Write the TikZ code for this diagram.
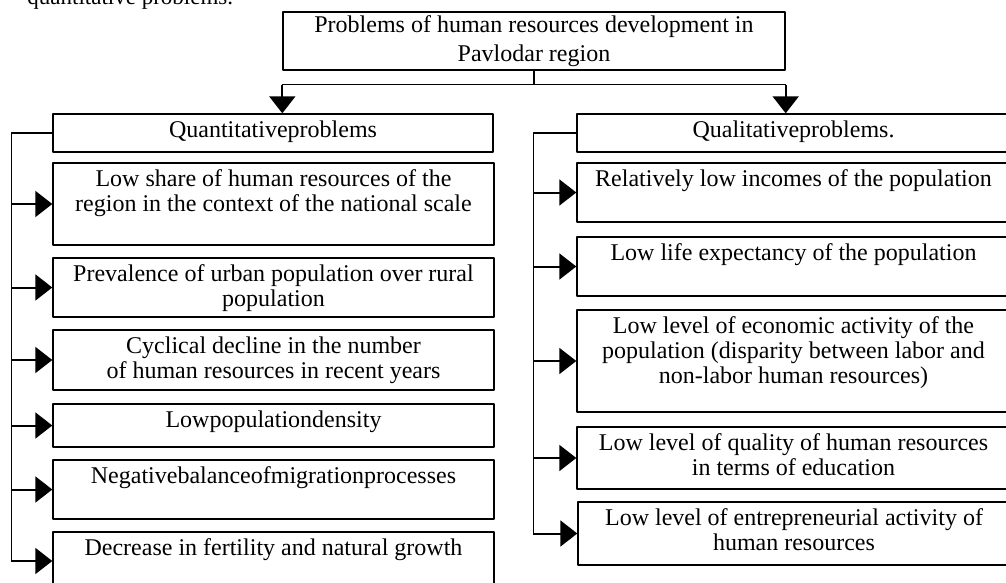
\documentclass[tikz,border=0pt]{standalone}
\usepackage{fontspec}
\setmainfont{Liberation Serif}
\usetikzlibrary{arrows.meta,fit}
\tikzset{
  box/.style={draw, line width=0.7pt, inner sep=0pt},
  txt/.style={anchor=north, align=center, inner sep=3.5pt, font=\fontsize{12}{12.4}\selectfont},
  arr/.style={-{Triangle[width=13pt,length=8.5pt]}, line width=1pt},
  trunk/.style={line width=0.7pt},
}
\begin{document}
\begin{tikzpicture}[x=0.5pt, y=-0.5pt, line join=round]
  \useasboundingbox (0,0) rectangle (1006,583);
  \clip (0,0) rectangle (1006,583);
  % line of the text above
  \node[anchor=base west, inner sep=0pt, font=\fontsize{11.5}{13}\selectfont] (para) at (27,5) {quantitative problems.};
  % main box
  \node[box, fit={(283,12) (785,70)}, label={[txt, anchor=center, font=\fontsize{12}{14.5}\selectfont]center:Problems of human resources development in\\Pavlodar region}] (top) {};
  % left column
  \node[box, fit={(53,114) (493,152)}, label={[txt]north:Quantitativeproblems}] (qn) {};
  \node[box, fit={(53,163) (494,245)}, label={[txt]north:Low share of human resources of the\\region in the context of the national scale}] (l1) {};
  \node[box, fit={(53,258) (494,317)}, label={[txt]north:Prevalence of urban population over rural\\population}] (l2) {};
  \node[box, fit={(53,330) (494,390)}, label={[txt]north:Cyclical decline in the number\\of human resources in recent years}] (l3) {};
  \node[box, fit={(53,404) (494,447)}, label={[txt]north:Lowpopulationdensity}] (l4) {};
  \node[box, fit={(53,460) (494,519)}, label={[txt]north:Negativebalanceofmigrationprocesses}] (l5) {};
  \node[box, fit={(53,532) (494,590)}, label={[txt]north:Decrease in fertility and natural growth}] (l6) {};
  % right column
  \node[box, fit={(577,114) (1010,152)}, label={[txt]north:Qualitativeproblems.}] (ql) {};
  \node[box, fit={(577,163) (1010,222)}, label={[txt]north:Relatively low incomes of the population}] (r1) {};
  \node[box, fit={(577,237) (1010,296)}, label={[txt]north:Low life expectancy of the population}] (r2) {};
  \node[box, fit={(577,310) (1010,412)}, label={[txt]north:Low level of economic activity of the\\population (disparity between labor and\\non-labor human resources)}] (r3) {};
  \node[box, fit={(577,427) (1010,489)}, label={[txt]north:Low level of quality of human resources\\in terms of education}] (r4) {};
  \node[box, fit={(578,502) (1010,565)}, label={[txt]north:Low level of entrepreneurial activity of\\human resources}] (r5) {};
  % fork
  \draw[trunk] (top.south) -- ++(0,14) coordinate (fork);
  \draw[trunk] (fork -| top.west) -- (fork -| top.east);
  \draw[arr] (fork -| top.west) -- (top.west |- qn.north);
  \draw[arr] (fork -| top.east) -- (top.east |- ql.north);
  % left trunk
  \draw[trunk] (qn.west) -- ++(-41,0) coordinate (lt) -- (lt |- l6.west);
  \foreach \n in {1,...,6}
    \draw[arr] (lt |- l\n.west) -- (l\n.west);
  % right trunk
  \draw[trunk] (ql.west) -- ++(-43,0) coordinate (rt) -- (rt |- r5.west);
  \foreach \n in {1,...,5}
    \draw[arr] (rt |- r\n.west) -- (r\n.west);
\end{tikzpicture}
\end{document}
